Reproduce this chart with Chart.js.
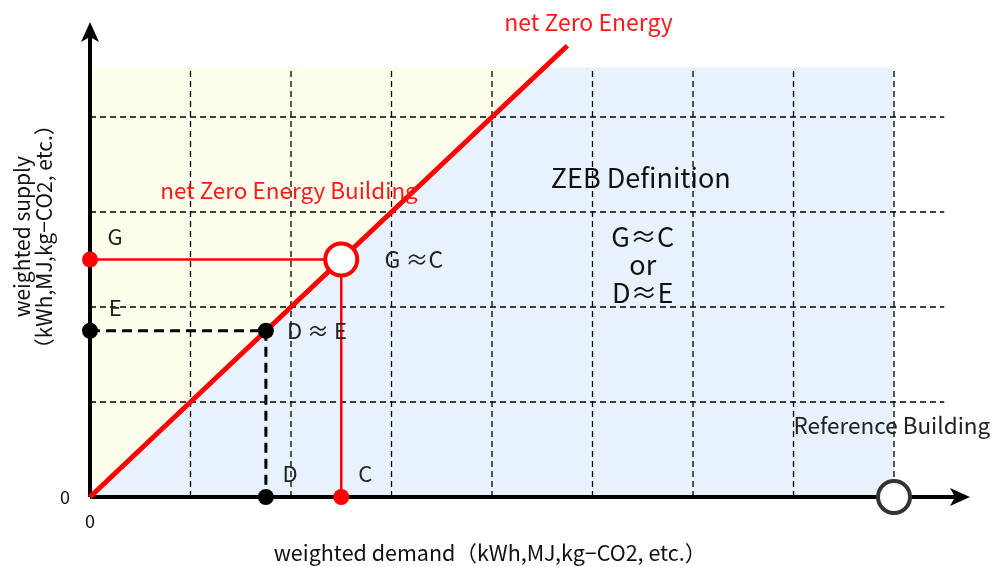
<!DOCTYPE html>
<html>
<head>
<meta charset="utf-8">
<script src="https://cdn.jsdelivr.net/npm/chart.js@4.4.0/dist/chart.umd.min.js"></script>
<style>
    html, body { margin: 0; padding: 0; background: #ffffff; }
    #wrap { width: 995px; height: 567px; position: relative; }
</style>
</head>
<body>
<div id="wrap"><canvas id="chart"></canvas></div>
<script>
// axis extents (data units)
const xMax = 8.756;
const yMax = 5;

// dashed grid positions
const gridX = [1, 2, 3, 4, 5, 6, 7, 8];
const gridY = [1, 2, 3, 4];
const gridTop = 4.52;
const gridRight = 8.5;
const shadeRight = 8;

// net zero line (supply = demand)
const zebLineEnd = 4.75;

// key points
const pointGC = 2.5;     // G = C
const pointDE = 1.75;    // D = E
const referenceX = 8;    // reference building

const FONT = "'Noto Sans CJK JP', 'Noto Sans', sans-serif";

const notes = [
    { text: "net Zero Energy", x: 4.96, y: 5.0, color: "#ff1a1a", size: 23, align: "center" },
    { text: "net Zero Energy Building", x: 0.70, y: 3.23, color: "#ff1a1a", size: 22.5, align: "left" },
    { text: "G", x: 0.25, y: 2.74, color: "#222", size: 22, align: "center" },
    { text: "E", x: 0.25, y: 1.99, color: "#222", size: 22, align: "center" },
    { text: "G ≈C", x: 2.93, y: 2.5, color: "#222", size: 23, align: "left" },
    { text: "D ≈ E", x: 1.96, y: 1.75, color: "#222", size: 22, align: "left" },
    { text: "D", x: 1.99, y: 0.25, color: "#222", size: 22, align: "center" },
    { text: "C", x: 2.74, y: 0.25, color: "#222", size: 22, align: "center" },
    { text: "ZEB Definition", x: 5.48, y: 3.36, color: "#111", size: 27, align: "center" },
    { text: "G≈C", x: 5.50, y: 2.74, color: "#111", size: 27, align: "center" },
    { text: "or", x: 5.50, y: 2.44, color: "#111", size: 27, align: "center" },
    { text: "D≈E", x: 5.50, y: 2.15, color: "#111", size: 27, align: "center" },
    { text: "Reference Building", x: 7.0, y: 0.75, color: "#222", size: 22.5, align: "left" },
    { text: "0", x: -0.25, y: 0, color: "#111", size: 18, align: "center" },
    { text: "0", x: 0, y: -0.25, color: "#111", size: 18, align: "center" },
    { text: "weighted demand（kWh,MJ,kg−CO2, etc.）", x: 3.98, y: -0.59, color: "#111", size: 21.5, align: "center" }
];

const yTitle = ["weighted supply", "（kWh,MJ,kg−CO2, etc.）"];
const yTitleX = [-0.68, -0.46];
const yTitleY = 2.74;

function seg(points, color, width, dash, order) {
    return {
        type: "scatter",
        data: points.map(p => ({ x: p[0], y: p[1] })),
        showLine: true,
        borderColor: color,
        borderWidth: width,
        borderDash: dash || [],
        pointRadius: 0,
        fill: false,
        clip: false,
        order: order
    };
}

const datasets = [];

// shaded zones
datasets.push({
    type: "line",
    data: [{ x: 0, y: gridTop }, { x: gridTop, y: gridTop }],
    borderWidth: 0,
    pointRadius: 0,
    backgroundColor: "#fefeec",
    fill: "origin",
    order: 100
});
datasets.push({
    type: "line",
    data: [{ x: 0, y: 0 }, { x: gridTop, y: gridTop }, { x: shadeRight, y: gridTop }],
    borderWidth: 0,
    pointRadius: 0,
    backgroundColor: "#e8f2fd",
    fill: "origin",
    order: 99
});

// dashed grid
for (const gx of gridX) {
    datasets.push(seg([[gx, 0], [gx, gridTop]], "#000", 1.3, [6, 4], 90));
}
for (const gy of gridY) {
    datasets.push(seg([[0, gy], [gridRight, gy]], "#000", 1.3, [6, 4], 90));
}

// axes
datasets.push(seg([[0, 0], [xMax - 0.15, 0]], "#000", 4, null, 80));
datasets.push(seg([[0, 0], [0, yMax - 0.15]], "#000", 4, null, 80));

// D = E guides
datasets.push(seg([[0, pointDE], [pointDE, pointDE]], "#000", 3, [10, 6], 70));
datasets.push(seg([[pointDE, pointDE], [pointDE, 0]], "#000", 3, [10, 6], 70));

// G = C guides
datasets.push(seg([[0, pointGC], [pointGC, pointGC]], "#ff0000", 2.5, null, 60));
datasets.push(seg([[pointGC, pointGC], [pointGC, 0]], "#ff0000", 2.5, null, 60));

// net zero line
datasets.push(seg([[0, 0], [zebLineEnd, zebLineEnd]], "#ff0000", 5, null, 50));

// dots
datasets.push({
    type: "scatter",
    data: [{ x: 0, y: pointDE }, { x: pointDE, y: pointDE }, { x: pointDE, y: 0 }],
    pointRadius: 8,
    pointBackgroundColor: "#000",
    pointBorderWidth: 0,
    clip: false,
    order: 40
});
datasets.push({
    type: "scatter",
    data: [{ x: 0, y: pointGC }, { x: pointGC, y: 0 }],
    pointRadius: 8,
    pointBackgroundColor: "#ff0000",
    pointBorderWidth: 0,
    clip: false,
    order: 40
});
datasets.push({
    type: "scatter",
    data: [{ x: pointGC, y: pointGC }],
    pointRadius: 16,
    pointBackgroundColor: "#ffffff",
    pointBorderColor: "#ff0000",
    pointBorderWidth: 4,
    clip: false,
    order: 30
});
datasets.push({
    type: "scatter",
    data: [{ x: referenceX, y: 0 }],
    pointRadius: 16,
    pointBackgroundColor: "#ffffff",
    pointBorderColor: "#333",
    pointBorderWidth: 4,
    clip: false,
    order: 30
});

const decorPlugin = {
    id: "decor",
    afterDatasetsDraw(chart) {
        const ctx = chart.ctx;
        const xs = chart.scales.x;
        const ys = chart.scales.y;
        const ox = xs.getPixelForValue(0);
        const oy = ys.getPixelForValue(0);
        const xe = xs.getPixelForValue(xMax);
        const ye = ys.getPixelForValue(yMax);

        // arrowheads
        ctx.save();
        ctx.fillStyle = "#000";
        ctx.beginPath();
        ctx.moveTo(ox, ye);
        ctx.lineTo(ox - 9, ye + 20);
        ctx.lineTo(ox, ye + 15);
        ctx.lineTo(ox + 9, ye + 20);
        ctx.closePath();
        ctx.fill();
        ctx.beginPath();
        ctx.moveTo(xe, oy);
        ctx.lineTo(xe - 20, oy - 9);
        ctx.lineTo(xe - 15, oy);
        ctx.lineTo(xe - 20, oy + 9);
        ctx.closePath();
        ctx.fill();

        ctx.textBaseline = "middle";
        for (const n of notes) {
            ctx.font = n.size + "px " + FONT;
            ctx.fillStyle = n.color;
            ctx.textAlign = n.align;
            ctx.fillText(n.text, xs.getPixelForValue(n.x), ys.getPixelForValue(n.y));
        }

        ctx.font = "21px " + FONT;
        ctx.fillStyle = "#111";
        ctx.textAlign = "center";
        yTitle.forEach((t, i) => {
            ctx.save();
            ctx.translate(xs.getPixelForValue(yTitleX[i]), ys.getPixelForValue(yTitleY));
            ctx.rotate(-Math.PI / 2);
            ctx.fillText(t, 0, 0);
            ctx.restore();
        });
        ctx.restore();
    }
};

new Chart(document.getElementById("chart"), {
    type: "scatter",
    data: { datasets: datasets },
    options: {
        responsive: true,
        maintainAspectRatio: false,
        animation: false,
        layout: { padding: { left: 90, top: 22, right: 25, bottom: 70 } },
        scales: {
            x: { type: "linear", min: 0, max: xMax, display: false },
            y: { type: "linear", min: 0, max: yMax, display: false }
        },
        plugins: {
            legend: { display: false },
            tooltip: { enabled: false }
        }
    },
    plugins: [decorPlugin]
});
</script>
</body>
</html>
